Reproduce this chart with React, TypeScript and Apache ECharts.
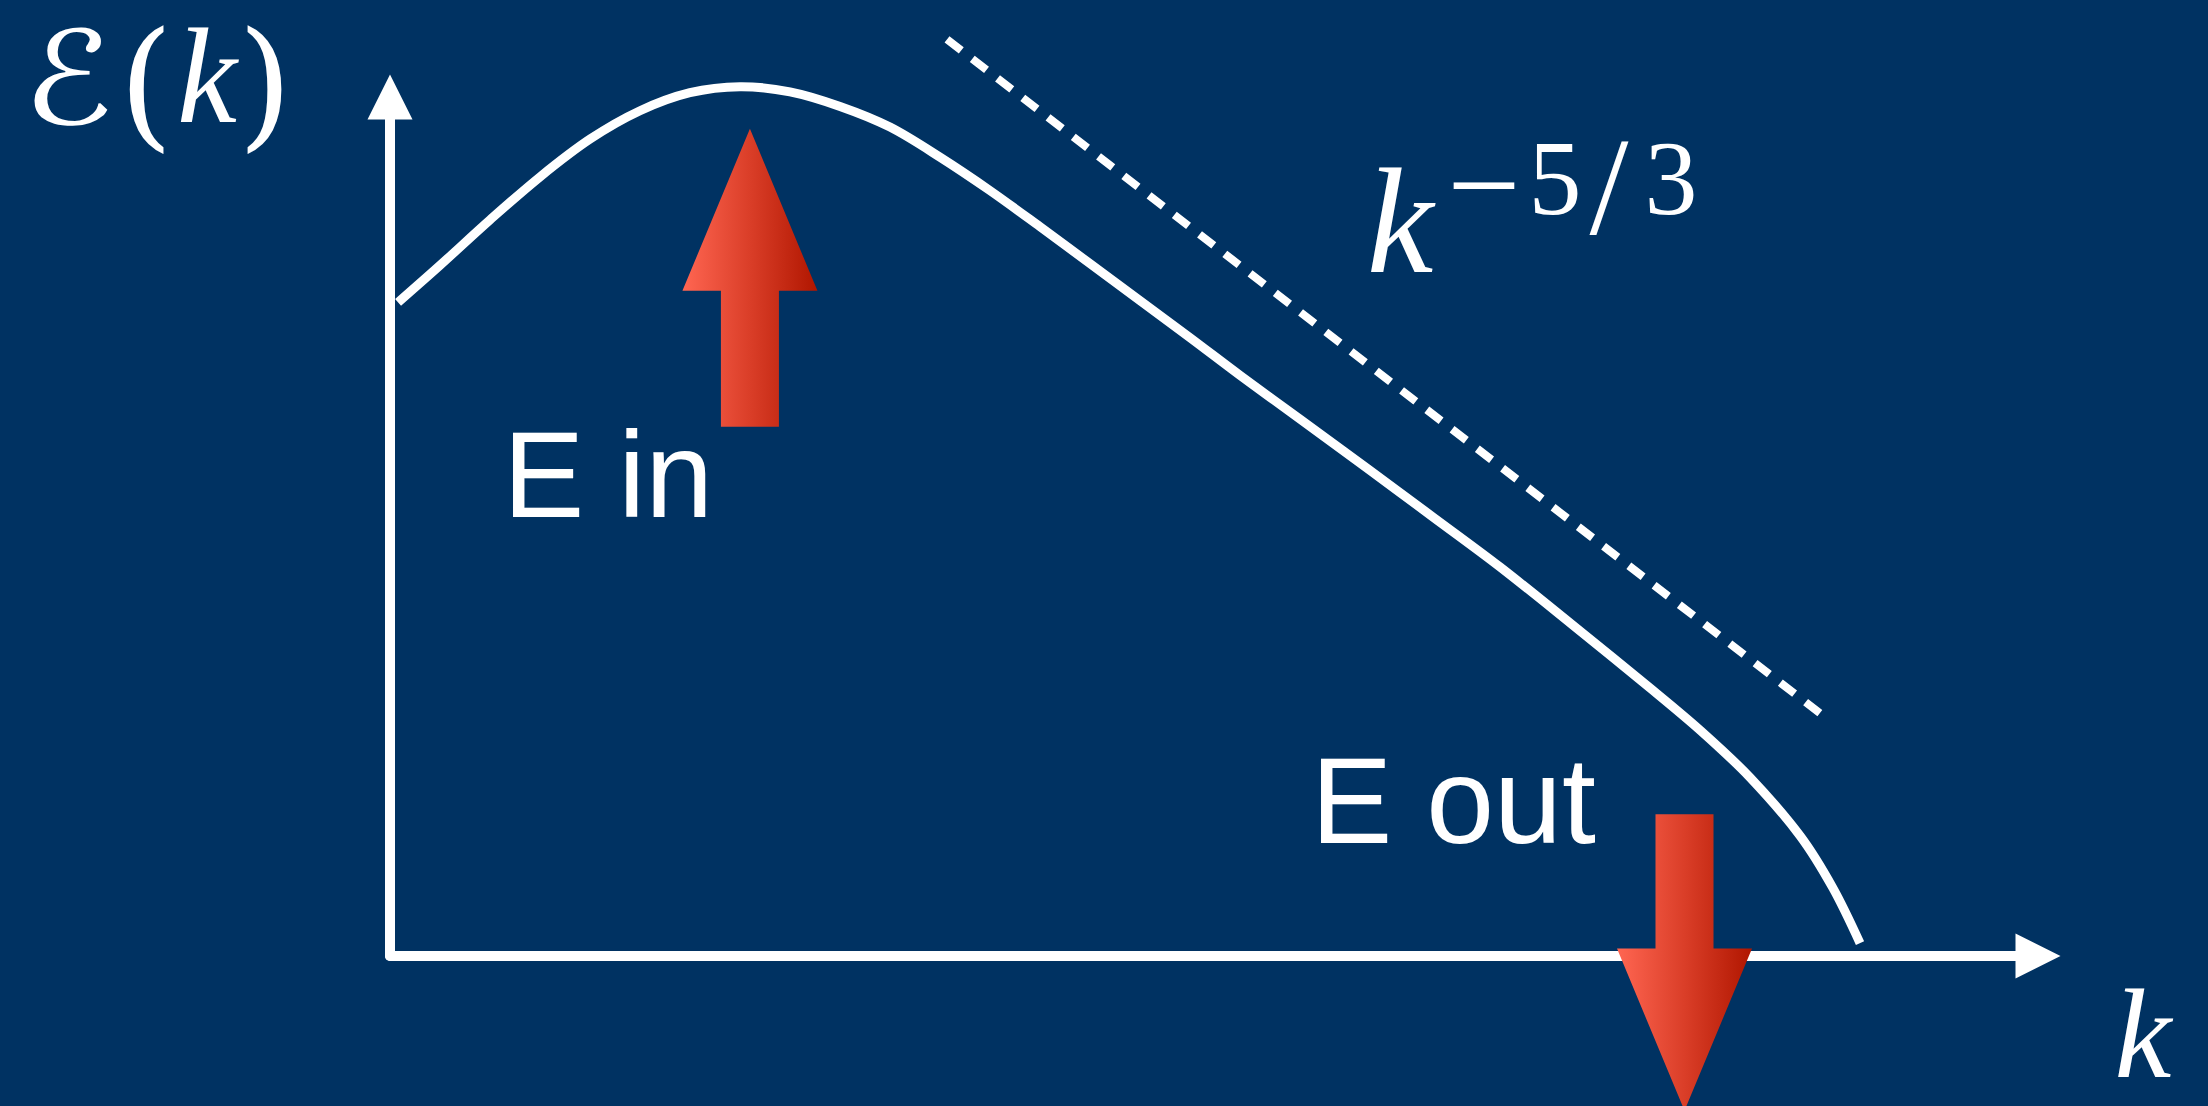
import React, { useEffect, useRef } from "react";
import * as echarts from "echarts";

// Spectrum curve E(k) (k and E in axis units 0..100)
const curveK = [0.49, 3.03, 6.07, 9.1, 12.14, 15.17, 18.2, 21.24, 24.27, 27.31, 30.34, 33.37, 36.41, 39.44, 42.48, 45.51, 48.54, 51.58, 55.22, 59.28, 63.29, 67.35, 71.78, 76.46, 79.49, 82.52, 85.56, 87.56, 89.2];
const curveE = [76.1, 80.4, 85.7, 90.7, 95.1, 98.4, 100.5, 101.2, 100.6, 98.9, 96.5, 93.0, 89.1, 84.9, 80.6, 76.3, 72.0, 67.6, 62.5, 56.8, 51.1, 45.3, 38.5, 31.2, 26.3, 20.8, 14.0, 7.9, 1.5];

// k^-5/3 guide (dotted straight line)
const guideK = [33.8, 86.83];
const guideE = [106.7, 28.17];

// Energy arrows: [k, tail E, tip E]
const arrowK = [21.84, 78.55];
const arrowTail = [61.6, 16.5];
const arrowTip = [96.3, -18.0];

const BG = "#003262";

export default function App() {
  const ref = useRef<HTMLDivElement>(null);
  useEffect(() => {
    document.body.style.margin = "0";
    const chart = echarts.init(ref.current!, null, { renderer: "svg" });
    const curve = curveK.map((k, i) => [k, curveE[i]]);
    const guide = guideK.map((k, i) => [k, guideE[i]]);
    const arrows = arrowK.map((k, i) => [k, arrowTail[i], arrowTip[i]]);
    const grad = () =>
      new echarts.graphic.LinearGradient(0, 0, 1, 0, [
        { offset: 0, color: "#FF6652" },
        { offset: 0.5, color: "#DA3E28" },
        { offset: 1, color: "#B01600" },
      ]);
    const axisCommon = {
      type: "value" as const,
      min: 0,
      max: 100,
      splitLine: { show: false },
      axisTick: { show: false },
      axisLabel: { show: false },
      axisLine: {
        show: true,
        symbol: ["none", "triangle"],
        symbolSize: [45, 45],
        lineStyle: { color: "#ffffff", width: 10 },
      },
    };
    const mathText = (text: string, x: number, y: number, font: string, scaleX = 1) => ({
      type: "text",
      x,
      y,
      scaleX,
      style: { text, font, fill: "#ffffff", align: "center", verticalAlign: "middle" },
    });
    chart.setOption({
      animation: false,
      backgroundColor: BG,
      grid: { left: 390, right: 170, top: 97, bottom: 150 },
      xAxis: axisCommon,
      yAxis: axisCommon,
      series: [
        {
          type: "custom",
          name: "spectrum",
          data: curve,
          clip: false,
          z: 3,
          renderItem: (params: any, api: any) => {
            if (params.dataIndex !== 0) return null;
            const pts = curve.map((p) => api.coord(p));
            return {
              type: "polyline",
              shape: { points: pts, smooth: 0.33 },
              style: { stroke: "#ffffff", lineWidth: 9, fill: null, lineCap: "butt", lineJoin: "round" },
            };
          },
        },
        {
          type: "line",
          data: guide,
          symbol: "none",
          clip: false,
          lineStyle: { color: "#ffffff", width: 8, type: [18, 13.9] },
          z: 3,
        },
        {
          type: "custom",
          data: arrows,
          clip: false,
          z: 5,
          renderItem: (params: any, api: any) => {
            const k = api.value(0);
            const pTail = api.coord([k, api.value(1)]);
            const pTip = api.coord([k, api.value(2)]);
            const dir = pTip[1] < pTail[1] ? -1 : 1;
            const headLen = 162;
            const headHalf = 67.5;
            const shaftHalf = 29;
            const cx = pTip[0];
            const hb = pTip[1] - dir * headLen;
            return {
              type: "polygon",
              shape: {
                points: [
                  [cx, pTip[1]],
                  [cx + headHalf, hb],
                  [cx + shaftHalf, hb],
                  [cx + shaftHalf, pTail[1]],
                  [cx - shaftHalf, pTail[1]],
                  [cx - shaftHalf, hb],
                  [cx - headHalf, hb],
                ],
              },
              style: { fill: grad() },
            };
          },
        },
      ],
      graphic: [
        {
          type: "text",
          x: 503,
          y: 475,
          style: { text: "E in", font: '122px "Liberation Sans", Arial, sans-serif', fill: "#ffffff", align: "left", verticalAlign: "middle" },
        },
        {
          type: "text",
          x: 1311,
          y: 801,
          style: { text: "E out", font: '122px "Liberation Sans", Arial, sans-serif', fill: "#ffffff", align: "left", verticalAlign: "middle" },
        },
        mathText("ℰ", 68, 79, 'italic 130px "DejaVu Sans", sans-serif', 1.15),
        mathText("(", 146, 83, '140px "DejaVu Serif", serif'),
        mathText("k", 207, 76, 'italic 135px "Liberation Serif", serif'),
        mathText(")", 265, 83, '140px "DejaVu Serif", serif'),
        mathText("k", 1400, 221, 'italic 150px "Liberation Serif", serif'),
        mathText("−", 1484, 185, '130px "Liberation Serif", serif'),
        mathText("5", 1555, 178, '106px "Liberation Serif", serif'),
        mathText("/", 1609, 186, '140px "Liberation Serif", serif'),
        mathText("3", 1671, 178, '106px "Liberation Serif", serif'),
        mathText("k", 2143, 1034, 'italic 128px "Liberation Serif", serif'),
      ],
    });
    return () => chart.dispose();
  }, []);
  return <div ref={ref} style={{ width: 2208, height: 1106 }} />;
}
